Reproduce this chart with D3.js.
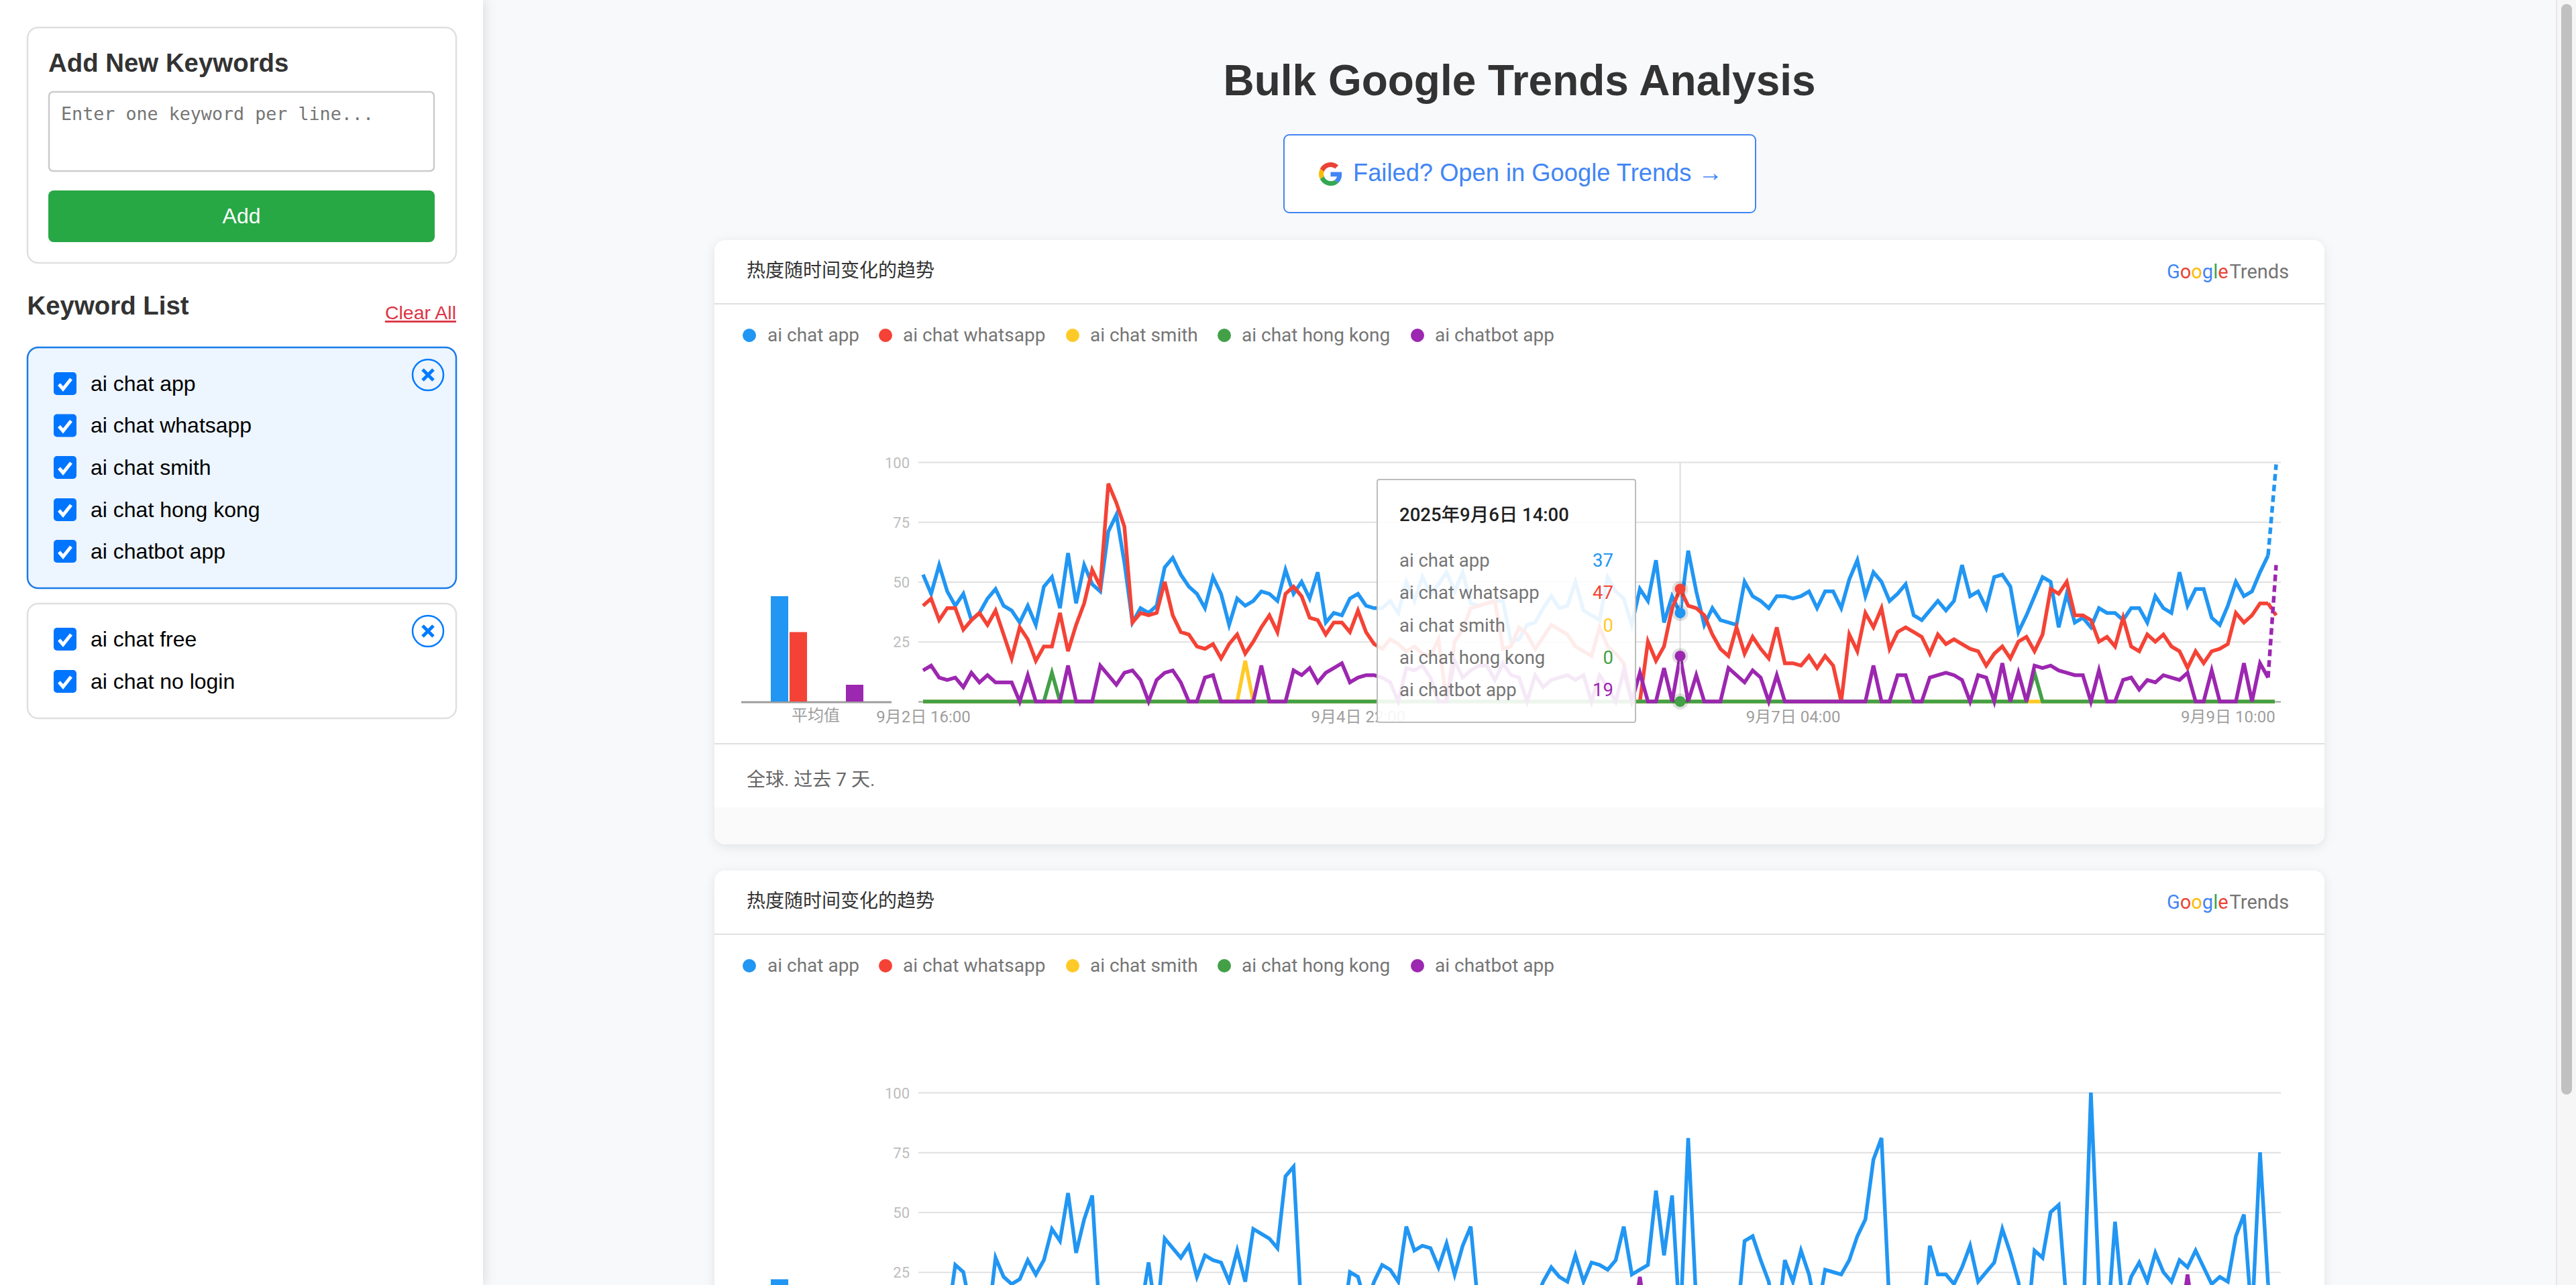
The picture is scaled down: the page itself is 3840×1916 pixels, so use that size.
<!DOCTYPE html>
<html>
<head>
<meta charset="utf-8">
<script src="https://cdn.jsdelivr.net/npm/d3@7"></script>
<style>
  html, body { margin: 0; padding: 0; background: #f8f9fa; overflow: hidden; }
  svg { display: block; }
</style>
</head>
<body>
<script>
// ── Data ──────────────────────────────────────────────────────────────────────
const keywords = ['ai chat app', 'ai chat whatsapp', 'ai chat smith', 'ai chat hong kong', 'ai chatbot app'];
const otherKeywords = ['ai chat free', 'ai chat no login'];
const seriesColors = ['#2196f3', '#f44336', '#ffca28', '#43a047', '#9c27b0'];
const legendTextX = [1144, 1346, 1625, 1851, 2139];
const legendDotX = [1117, 1320, 1599, 1825, 2113];
const yTicks = [0, 25, 50, 75, 100];
const xTickIndex = [0, 54, 108, 162];
const xTickLabels = ['9月2日 16:00', '9月4日 22:00', '9月7日 04:00', '9月9日 10:00'];

const chart1Avg = [44, 29, 0, 0, 7];
const chart2Avg = [22, 8, 0, 0, 3];

const chart1Blue = [
  53, 45, 57, 46, 40, 45, 34, 37, 43, 47,
  40, 38, 33, 40, 32, 48, 52, 39, 62, 41,
  57, 49, 46, 71, 78, 58, 33, 39, 37, 40,
  56, 60, 53, 48, 45, 39, 52, 45, 32, 43,
  40, 42, 46, 45, 42, 55, 45, 50, 43, 54,
  33, 37, 36, 43, 45, 40, 39, 39, 42, 37,
  50, 42, 52, 45, 49, 54, 46, 54, 41, 40,
  41, 42, 42, 25, 26, 32, 33, 39, 44, 39,
  40, 50, 38, 36, 34, 52, 46, 43, 32, 47,
  42, 59, 33, 44, 37, 63, 46, 32, 39, 34,
  33, 32, 50, 44, 42, 39, 44, 44, 43, 44,
  46, 39, 46, 46, 39, 51, 59, 44, 54, 50,
  42, 45, 49, 36, 34, 38, 42, 38, 42, 57,
  44, 46, 39, 52, 53, 48, 29, 36, 44, 52,
  50, 31, 45, 33, 35, 31, 39, 37, 37, 34,
  39, 39, 33, 44, 39, 37, 54, 40, 47, 47,
  35, 32, 40, 50, 44, 46, 54, 61, 99,
];
const chart1Red = [
  40, 43, 34, 39, 39, 30, 34, 37, 32, 38,
  28, 18, 31, 26, 17, 23, 23, 37, 21, 32,
  41, 55, 48, 91, 83, 73, 33, 37, 36, 37,
  50, 36, 29, 28, 23, 22, 24, 18, 24, 28,
  20, 25, 31, 36, 29, 45, 48, 44, 35, 34,
  28, 33, 33, 29, 38, 29, 24, 22, 26, 24,
  21, 23, 20, 19, 26, 0, 25, 30, 39, 40,
  41, 42, 22, 23, 31, 28, 22, 27, 32, 30,
  28, 23, 21, 19, 31, 23, 20, 16, 0, 0,
  25, 17, 23, 39, 47, 40, 39, 36, 28, 22,
  19, 31, 20, 27, 22, 18, 31, 16, 16, 15,
  19, 14, 19, 15, 0, 28, 21, 37, 31, 39,
  22, 29, 31, 29, 27, 20, 28, 24, 26, 24,
  22, 21, 15, 20, 23, 18, 25, 27, 21, 28,
  47, 45, 50, 36, 36, 34, 25, 27, 23, 35,
  23, 21, 28, 25, 28, 23, 21, 14, 21, 16,
  21, 22, 24, 37, 33, 36, 41, 41, 36,
];
const chart1Purple = [
  13, 15, 10, 9, 10, 6, 12, 8, 11, 8,
  8, 8, 0, 11, 0, 0, 0, 0, 15, 0,
  0, 0, 15, 11, 7, 12, 13, 9, 0, 9,
  12, 13, 8, 0, 0, 10, 11, 0, 0, 0,
  0, 0, 15, 0, 0, 0, 13, 11, 14, 8,
  12, 14, 16, 8, 10, 11, 11, 10, 8, 0,
  14, 13, 15, 10, 0, 0, 17, 10, 13, 15,
  15, 9, 16, 11, 10, 0, 11, 6, 9, 10,
  11, 9, 11, 0, 11, 6, 0, 13, 0, 12,
  0, 0, 14, 0, 19, 0, 11, 0, 0, 0,
  14, 11, 8, 13, 10, 0, 11, 0, 0, 0,
  0, 0, 0, 0, 0, 0, 0, 0, 15, 0,
  0, 11, 11, 0, 0, 10, 11, 12, 11, 9,
  0, 11, 10, 0, 16, 0, 12, 0, 15, 14,
  15, 13, 12, 11, 11, 0, 13, 0, 0, 9,
  10, 5, 9, 8, 11, 10, 9, 12, 0, 0,
  13, 0, 0, 0, 16, 0, 16, 10, 57,
];
// Only non-zero hours of the two flat series: [hour index, value]
const chart1YellowPeaks = [[40, 17]];
const chart1GreenPeaks = [[16, 12], [138, 12]];

const chart2Blue = [
  12, 8, 5, 4, 28, 25, 8, 3, 2, 31,
  23, 20, 22, 30, 24, 30, 43, 38, 58, 33,
  47, 57, 3, 3, 2, 0, 3, 8, 29, 5,
  39, 35, 31, 36, 23, 32, 30, 29, 21, 34,
  21, 43, 41, 39, 35, 65, 69, 6, 4, 3,
  2, 0, 0, 25, 23, 11, 21, 28, 26, 21,
  44, 34, 36, 35, 27, 37, 24, 36, 44, 8,
  5, 3, 2, 3, 4, 6, 13, 21, 27, 23,
  21, 32, 21, 29, 28, 26, 30, 44, 24, 26,
  28, 59, 32, 57, 2, 81, 12, 4, 2, 1,
  3, 2, 38, 40, 30, 21, 1, 30, 21, 34,
  24, 7, 26, 25, 24, 30, 40, 47, 72, 81,
  10, 3, 2, 2, 0, 36, 24, 24, 20, 27,
  36, 21, 25, 29, 43, 33, 21, 0, 34, 31,
  50, 53, 11, 3, 0, 100, 20, 0, 46, 10,
  23, 29, 21, 33, 25, 21, 30, 27, 34, 27,
  20, 23, 21, 40, 49, 5, 75, 20, 6,
];
const chart2PurplePeaks = [[89, 23], [157, 24]];

const tooltipDate = '2025年9月6日 14:00';
const tooltipHour = 94;
const tooltipValues = [37, 47, 0, 0, 19];

// ── Constants ─────────────────────────────────────────────────────────────────
const WIDTH = 3840, HEIGHT = 1916;
const SANS = '"Liberation Sans", Arial, sans-serif';
const CHART_FONT = 'Roboto, "Noto Sans CJK SC", sans-serif';
const CARD_LEFT = 1065, CARD_RIGHT = 3465;
const CARD2_OFFSET = 940;
const GRID_LEFT = 1369, GRID_RIGHT = 3400;

const svg = d3.select('body').append('svg')
  .attr('width', WIDTH).attr('height', HEIGHT)
  .attr('viewBox', `0 0 ${WIDTH} ${HEIGHT}`);

const x = d3.scaleLinear().domain([0, 168]).range([1376, 3393]);
const y = d3.scaleLinear().domain([0, 100]).range([1046, 689]);
const barX = d3.scaleBand().domain(keywords).range([1149, 1287]).paddingInner(0.07);

function fromPeaks(peaks) {
  const values = new Array(169).fill(0);
  peaks.forEach(([i, v]) => { values[i] = v; });
  return values;
}

function label(parent, str, px, py, size, color, opts = {}) {
  return parent.append('text')
    .attr('x', px).attr('y', py)
    .attr('font-family', opts.family || SANS)
    .attr('font-size', size)
    .attr('font-weight', opts.weight || 400)
    .attr('text-anchor', opts.anchor || 'start')
    .attr('fill', color)
    .text(str);
}

// ── Background ────────────────────────────────────────────────────────────────
svg.append('rect').attr('width', WIDTH).attr('height', HEIGHT).attr('fill', '#f8f9fa');

// ── Chart card ────────────────────────────────────────────────────────────────
function drawGoogleTrendsLogo(g) {
  const logo = g.append('text')
    .attr('x', 3230).attr('y', 415)
    .attr('font-family', 'Roboto, sans-serif')
    .attr('font-size', 29);
  [['G', '#4285f4'], ['o', '#ea4335'], ['o', '#fbbc05'], ['g', '#4285f4'], ['l', '#34a853'], ['e', '#ea4335']]
    .forEach(([ch, color]) => logo.append('tspan').attr('fill', color).text(ch));
  logo.append('tspan').attr('fill', '#757575').attr('dx', 2).text('Trends');
}

// belowFold: the second card runs off the page, its lower labels are not in view
function drawCard(dy, avg, series, belowFold) {
  const g = svg.append('g').attr('transform', `translate(0,${dy})`);

  g.append('rect')
    .attr('x', CARD_LEFT).attr('y', 358)
    .attr('width', CARD_RIGHT - CARD_LEFT).attr('height', 901)
    .attr('rx', 16).attr('fill', '#fff')
    .style('filter', 'drop-shadow(0 4px 8px rgba(0,0,0,0.09))');

  // footer band with rounded bottom corners
  const foot = d3.path();
  foot.moveTo(CARD_LEFT, 1204);
  foot.lineTo(CARD_RIGHT, 1204);
  foot.lineTo(CARD_RIGHT, 1243);
  foot.arcTo(CARD_RIGHT, 1259, CARD_RIGHT - 16, 1259, 16);
  foot.lineTo(CARD_LEFT + 16, 1259);
  foot.arcTo(CARD_LEFT, 1259, CARD_LEFT, 1243, 16);
  foot.closePath();
  g.append('path').attr('d', foot.toString()).attr('fill', '#fafafa');

  g.append('line').attr('x1', CARD_LEFT).attr('x2', CARD_RIGHT).attr('y1', 453).attr('y2', 453)
    .attr('stroke', '#e0e0e0').attr('stroke-width', 2);
  g.append('line').attr('x1', CARD_LEFT).attr('x2', CARD_RIGHT).attr('y1', 1109).attr('y2', 1109)
    .attr('stroke', '#e0e0e0').attr('stroke-width', 2);

  label(g, '热度随时间变化的趋势', 1113, 413, 28, '#333', { family: CHART_FONT });
  drawGoogleTrendsLogo(g);
  if (!belowFold) label(g, '全球. 过去 7 天.', 1113, 1172, 28, '#666', { family: CHART_FONT });

  // legend
  keywords.forEach((k, i) => {
    g.append('circle').attr('cx', legendDotX[i]).attr('cy', 500).attr('r', 10).attr('fill', seriesColors[i]);
    label(g, k, legendTextX[i], 509, 28, '#757575', { family: 'Roboto, sans-serif' });
  });

  // grid + y labels
  const yAxis = g.append('g')
    .attr('transform', `translate(${GRID_LEFT},0)`)
    .call(d3.axisLeft(y).tickValues(yTicks).tickSize(-(GRID_RIGHT - GRID_LEFT)).tickPadding(13)
      .tickFormat(d => d));
  yAxis.select('.domain').remove();
  yAxis.selectAll('.tick line').attr('stroke', d => d === 0 ? '#9e9e9e' : '#e0e0e0').attr('stroke-width', 2);
  yAxis.selectAll('.tick text')
    .filter(d => d === 0).remove();
  yAxis.selectAll('.tick text')
    .attr('font-family', 'Roboto, sans-serif').attr('font-size', 22).attr('fill', '#bdbdbd')
    .attr('dy', 8);

  // average bars
  g.append('line').attr('x1', 1105).attr('x2', 1329).attr('y1', 1047).attr('y2', 1047)
    .attr('stroke', '#9e9e9e').attr('stroke-width', 3);
  g.selectAll('rect.avg-bar')
    .data(keywords)
    .join('rect')
    .attr('class', 'avg-bar')
    .attr('x', d => barX(d))
    .attr('width', barX.bandwidth())
    .attr('y', (d, i) => y(avg[i]))
    .attr('height', (d, i) => y(0) - y(avg[i]))
    .attr('fill', (d, i) => seriesColors[i]);
  if (!belowFold) label(g, '平均值', 1216, 1075, 24, '#9e9e9e', { family: CHART_FONT, anchor: 'middle' });

  // trend lines: solid up to the partial last hour, then dotted
  const line = d3.line().x((d, i) => x(i)).y(d => y(d));
  const lineLast = d3.line().x(d => x(d[0])).y(d => y(d[1]));
  series.forEach(s => {
    g.append('path')
      .attr('d', line(s.values.slice(0, 168)))
      .attr('fill', 'none').attr('stroke', s.color).attr('stroke-width', 5.5);
    g.append('path')
      .attr('d', lineLast([[167, s.values[167]], [168, s.values[168]]]))
      .attr('fill', 'none').attr('stroke', s.color).attr('stroke-width', 5.5)
      .attr('stroke-dasharray', '10 6');
  });

  // x labels
  if (!belowFold) {
    const xAxis = g.append('g')
      .attr('transform', 'translate(0,1046)')
      .call(d3.axisBottom(x).tickValues(xTickIndex).tickSize(0)
        .tickFormat((d, i) => xTickLabels[i]));
    xAxis.select('.domain').remove();
    xAxis.selectAll('.tick text')
      .attr('font-family', CHART_FONT).attr('font-size', 24).attr('fill', '#9e9e9e')
      .attr('y', 31).attr('dy', 0);
  }

  return g;
}

const card1 = drawCard(0, chart1Avg, [
  { color: seriesColors[0], values: chart1Blue },
  { color: seriesColors[1], values: chart1Red },
  { color: seriesColors[2], values: fromPeaks(chart1YellowPeaks) },
  { color: seriesColors[3], values: fromPeaks(chart1GreenPeaks) },
  { color: seriesColors[4], values: chart1Purple },
], false);
drawCard(CARD2_OFFSET, chart2Avg, [
  { color: seriesColors[0], values: chart2Blue },
  { color: seriesColors[4], values: fromPeaks(chart2PurplePeaks) },
], true);

// ── Hover state and tooltip (first card only) ─────────────────────────────────
card1.append('line')
  .attr('x1', x(tooltipHour)).attr('x2', x(tooltipHour)).attr('y1', y(100)).attr('y2', y(0))
  .attr('stroke', '#ddd').attr('stroke-width', 2);
tooltipValues.forEach((v, i) => {
  if (i === 2) return;
  card1.append('circle').attr('cx', x(tooltipHour)).attr('cy', y(v)).attr('r', 12)
    .attr('fill', 'rgba(0,0,0,0.12)');
  card1.append('circle').attr('cx', x(tooltipHour)).attr('cy', y(v)).attr('r', 8)
    .attr('fill', seriesColors[i]);
});

card1.append('rect')
  .attr('x', 2053).attr('y', 715).attr('width', 385).attr('height', 362).attr('rx', 3)
  .attr('fill', 'rgba(255,255,255,0.9)').attr('stroke', '#bdbdbd').attr('stroke-width', 2);
label(card1, tooltipDate, 2086, 777, 27.5, '#212121', { family: CHART_FONT, weight: 500 });
const tooltipRowY = [845, 893, 942, 990, 1038];
keywords.forEach((k, i) => {
  label(card1, k, 2086, tooltipRowY[i], 27.5, '#757575', { family: 'Roboto, sans-serif' });
  label(card1, tooltipValues[i], 2405, tooltipRowY[i], 27.5, seriesColors[i], { family: 'Roboto, sans-serif', anchor: 'end' });
});

// ── Page title + link button ──────────────────────────────────────────────────
label(svg, 'Bulk Google Trends Analysis', 2265, 142, 64, '#333', { weight: 700, anchor: 'middle' });
svg.append('rect')
  .attr('x', 1914).attr('y', 201).attr('width', 703).attr('height', 116).attr('rx', 8)
  .attr('fill', '#fff').attr('stroke', '#4285f4').attr('stroke-width', 2);
const gLogo = svg.append('g').attr('transform', `translate(1966,242) scale(${35 / 48})`);
[
  ['#ea4335', 'M24 9.5c3.54 0 6.71 1.22 9.21 3.6l6.85-6.85C35.9 2.38 30.47 0 24 0 14.62 0 6.51 5.38 2.56 13.22l7.98 6.19C12.43 13.72 17.74 9.5 24 9.5z'],
  ['#4285f4', 'M46.98 24.55c0-1.57-.15-3.09-.38-4.55H24v9.02h12.94c-.58 2.96-2.26 5.48-4.78 7.18l7.73 6c4.51-4.18 7.09-10.36 7.09-17.65z'],
  ['#fbbc05', 'M10.53 28.59c-.48-1.45-.76-2.99-.76-4.59s.27-3.14.76-4.59l-7.98-6.19C.92 16.46 0 20.12 0 24c0 3.88.92 7.54 2.56 10.78l7.97-6.19z'],
  ['#34a853', 'M24 48c6.48 0 11.93-2.13 15.89-5.81l-7.73-6c-2.15 1.45-4.92 2.3-8.16 2.3-6.26 0-11.57-4.22-13.47-9.91l-7.98 6.19C6.51 42.62 14.62 48 24 48z'],
].forEach(([fill, d]) => gLogo.append('path').attr('fill', fill).attr('d', d));
label(svg, 'Failed? Open in Google Trends →', 2017, 270, 36.3, '#4285f4');

// ── Sidebar ───────────────────────────────────────────────────────────────────
svg.append('rect').attr('width', 720).attr('height', HEIGHT).attr('fill', '#fff')
  .style('filter', 'drop-shadow(4px 0 8px rgba(0,0,0,0.1))');

const side = svg.append('g');
side.append('rect').attr('x', 41).attr('y', 41).attr('width', 639).attr('height', 351).attr('rx', 16)
  .attr('fill', '#fff').attr('stroke', '#e0e0e0').attr('stroke-width', 2.5);
label(side, 'Add New Keywords', 72, 107, 38.4, '#333', { weight: 700 });
side.append('rect').attr('x', 73).attr('y', 137).attr('width', 574).attr('height', 118).attr('rx', 6)
  .attr('fill', '#fff').attr('stroke', '#ccc').attr('stroke-width', 2.5);
label(side, 'Enter one keyword per line...', 91, 179, 26.7, '#757575', { family: '"DejaVu Sans Mono", monospace' });
side.append('rect').attr('x', 72).attr('y', 284).attr('width', 576).attr('height', 77).attr('rx', 8).attr('fill', '#28a745');
label(side, 'Add', 360, 333, 32, '#fff', { anchor: 'middle' });

label(side, 'Keyword List', 40.5, 469, 38.4, '#333', { weight: 700 });
label(side, 'Clear All', 680, 476, 28.5, '#dc3545', { anchor: 'end' }).attr('text-decoration', 'underline');

function drawGroup(top, bottom, items, itemY, active) {
  side.append('rect').attr('x', 41).attr('y', top).attr('width', 639).attr('height', bottom - top).attr('rx', 16)
    .attr('fill', active ? '#edf5ff' : '#fff')
    .attr('stroke', active ? '#1a7be8' : '#e0e0e0').attr('stroke-width', 2.5);

  const rows = side.selectAll(null).data(items).join('g')
    .attr('transform', (d, i) => `translate(0,${itemY[i]})`);
  rows.append('rect').attr('x', 80).attr('y', -17).attr('width', 34).attr('height', 34).attr('rx', 5).attr('fill', '#0075ff');
  rows.append('path').attr('d', 'M88 1 L94 8 L106 -7').attr('fill', 'none').attr('stroke', '#fff').attr('stroke-width', 5);
  rows.append('text').attr('x', 135).attr('y', 10.5)
    .attr('font-family', SANS).attr('font-size', 32).attr('fill', '#000').text(d => d);

  const closeY = top + 41;
  side.append('circle').attr('cx', 638).attr('cy', closeY).attr('r', 23)
    .attr('fill', active ? 'none' : '#fff').attr('stroke', '#007bff').attr('stroke-width', 2.5);
  side.append('path')
    .attr('d', `M630 ${closeY - 8} L646 ${closeY + 8} M646 ${closeY - 8} L630 ${closeY + 8}`)
    .attr('stroke', '#007bff').attr('stroke-width', 5);
}
drawGroup(518, 877, keywords, [572, 634.5, 697, 760, 822], true);
drawGroup(900, 1071, otherKeywords, [953, 1016], false);

// ── Scrollbar ─────────────────────────────────────────────────────────────────
svg.append('rect').attr('x', 3810).attr('y', 0).attr('width', 30).attr('height', HEIGHT).attr('fill', '#f6f6f6');
svg.append('rect').attr('x', 3810).attr('y', 0).attr('width', 2).attr('height', HEIGHT).attr('fill', '#e6e6e6');
svg.append('rect').attr('x', 3818).attr('y', 6).attr('width', 16).attr('height', 1626).attr('rx', 8).attr('fill', '#c1c1c1');
</script>
</body>
</html>
